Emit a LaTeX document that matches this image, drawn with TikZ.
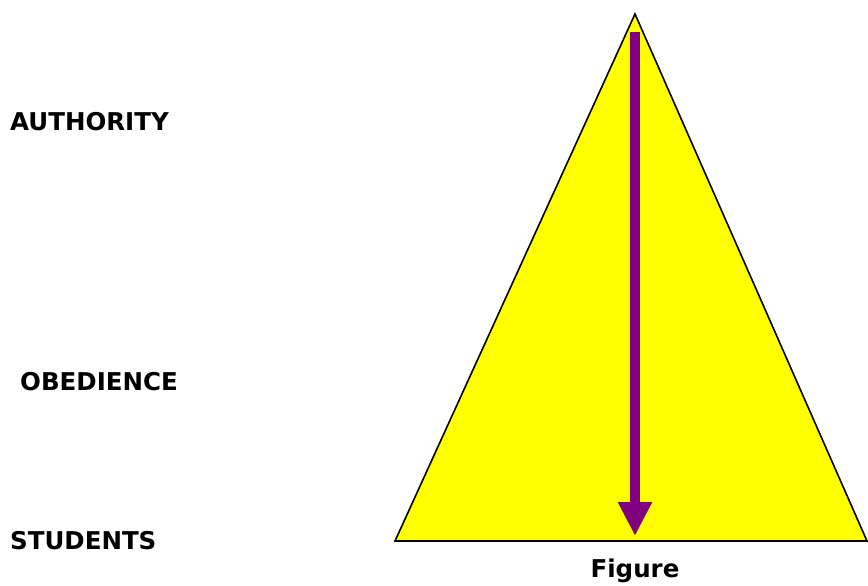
\documentclass[tikz,border=0pt]{standalone}
\usepackage{fontspec}
\setmainfont{DejaVu Sans}
\usetikzlibrary{arrows.meta}
\definecolor{tri}{HTML}{FFFF00}
\definecolor{arr}{HTML}{800080}
\begin{document}
\begin{tikzpicture}[x=1pt,y=-1pt,
  lbl/.style={anchor=base west,inner sep=0pt,font=\fontsize{24.5}{28}\selectfont\bfseries}]
\useasboundingbox (0,0) rectangle (868,586);
\coordinate (apex) at (635,14);
\coordinate (bl) at (395,541);
\coordinate (br) at (867,541);
\draw[fill=tri,line width=1.6pt,line join=miter] (apex) -- (br) -- (bl) -- cycle;
\coordinate (as) at (635,32);
\coordinate (ae) at (635,536);
\draw[arr,line width=10pt,-{Triangle[length=34pt,width=32pt]}] (as) -- (ae);
\node[lbl] (auth) at (10,131) {AUTHORITY};
\node[lbl] (obed) at (20,390) {OBEDIENCE};
\node[lbl] (stud) at (10,549) {STUDENTS};
\node[lbl,anchor=base] (fig) at (635,577) {Figure};
\end{tikzpicture}
\end{document}
